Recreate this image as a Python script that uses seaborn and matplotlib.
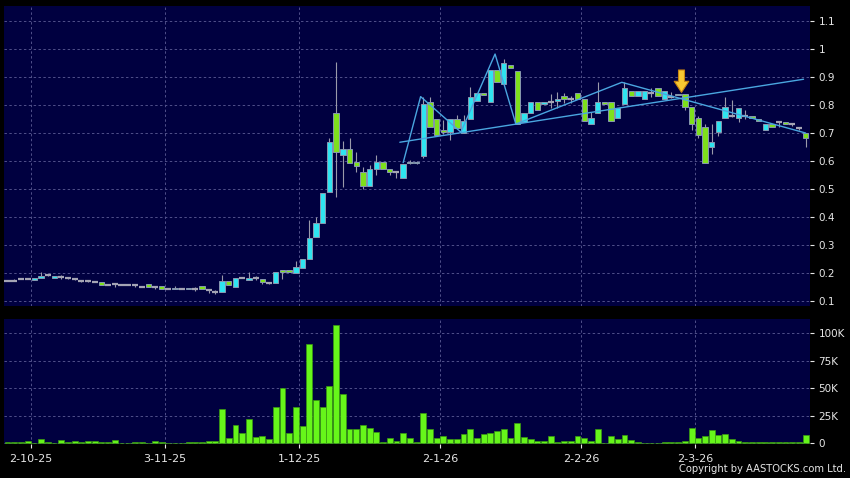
import numpy as np
import pandas as pd
import matplotlib
matplotlib.use('Agg')
import matplotlib.pyplot as plt
import seaborn as sns

# --- Daily candles (one entry per trading day) ---
OPEN = [0.173, 0.173, 0.179, 0.179, 0.175, 0.183, 0.193, 0.183, 0.187, 0.181,
        0.177, 0.173, 0.173, 0.168, 0.167, 0.157, 0.160, 0.157, 0.157, 0.156,
        0.151, 0.160, 0.149, 0.154, 0.144, 0.142, 0.144, 0.142, 0.144, 0.154,
        0.139, 0.132, 0.131, 0.170, 0.149, 0.183, 0.176, 0.183, 0.179, 0.163,
        0.163, 0.208, 0.208, 0.201, 0.217, 0.249, 0.327, 0.377, 0.488, 0.770,
        0.620, 0.643, 0.598, 0.560, 0.510, 0.571, 0.598, 0.570, 0.561, 0.538,
        0.598, 0.592, 0.619, 0.812, 0.750, 0.711, 0.702, 0.750, 0.701, 0.750,
        0.814, 0.842, 0.812, 0.925, 0.874, 0.943, 0.923, 0.741, 0.770, 0.812,
        0.804, 0.812, 0.813, 0.832, 0.820, 0.842, 0.820, 0.732, 0.770, 0.812,
        0.812, 0.752, 0.804, 0.851, 0.832, 0.820, 0.842, 0.862, 0.820, 0.830,
        0.840, 0.840, 0.792, 0.752, 0.720, 0.649, 0.702, 0.755, 0.760, 0.752,
        0.760, 0.760, 0.750, 0.711, 0.731, 0.740, 0.741, 0.731, 0.717, 0.701]
CLOSE = [0.173, 0.173, 0.179, 0.179, 0.182, 0.190, 0.193, 0.189, 0.187, 0.181,
         0.177, 0.173, 0.173, 0.168, 0.157, 0.157, 0.160, 0.157, 0.157, 0.156,
         0.151, 0.149, 0.149, 0.144, 0.144, 0.148, 0.144, 0.148, 0.144, 0.142,
         0.139, 0.132, 0.171, 0.157, 0.183, 0.183, 0.183, 0.183, 0.169, 0.163,
         0.204, 0.204, 0.204, 0.223, 0.250, 0.324, 0.377, 0.485, 0.669, 0.631,
         0.642, 0.592, 0.581, 0.510, 0.570, 0.598, 0.571, 0.561, 0.561, 0.591,
         0.592, 0.598, 0.802, 0.720, 0.693, 0.705, 0.750, 0.719, 0.743, 0.830,
         0.842, 0.835, 0.925, 0.881, 0.951, 0.932, 0.732, 0.770, 0.812, 0.782,
         0.812, 0.812, 0.820, 0.820, 0.820, 0.820, 0.743, 0.752, 0.812, 0.804,
         0.743, 0.790, 0.862, 0.832, 0.851, 0.851, 0.842, 0.832, 0.851, 0.830,
         0.835, 0.792, 0.732, 0.693, 0.592, 0.669, 0.744, 0.792, 0.760, 0.790,
         0.760, 0.752, 0.743, 0.731, 0.720, 0.740, 0.732, 0.731, 0.717, 0.681]
HIGH = [0.175, 0.179, 0.180, 0.180, 0.183, 0.202, 0.194, 0.190, 0.193, 0.182,
        0.178, 0.174, 0.174, 0.169, 0.167, 0.158, 0.165, 0.158, 0.158, 0.157,
        0.152, 0.160, 0.150, 0.154, 0.145, 0.152, 0.145, 0.148, 0.151, 0.154,
        0.140, 0.139, 0.193, 0.170, 0.183, 0.184, 0.202, 0.189, 0.179, 0.164,
        0.204, 0.208, 0.208, 0.244, 0.250, 0.389, 0.399, 0.485, 0.681, 0.952,
        0.673, 0.681, 0.631, 0.580, 0.586, 0.620, 0.598, 0.570, 0.562, 0.591,
        0.602, 0.600, 0.830, 0.830, 0.750, 0.746, 0.750, 0.763, 0.763, 0.866,
        0.842, 0.842, 0.925, 0.925, 0.964, 0.943, 0.923, 0.770, 0.812, 0.812,
        0.812, 0.840, 0.845, 0.843, 0.832, 0.842, 0.820, 0.774, 0.881, 0.812,
        0.812, 0.790, 0.881, 0.851, 0.851, 0.851, 0.860, 0.862, 0.851, 0.845,
        0.840, 0.840, 0.792, 0.760, 0.732, 0.732, 0.744, 0.830, 0.818, 0.790,
        0.783, 0.760, 0.750, 0.731, 0.731, 0.741, 0.741, 0.732, 0.718, 0.701]
LOW = [0.172, 0.172, 0.178, 0.177, 0.174, 0.182, 0.191, 0.182, 0.179, 0.180,
       0.176, 0.167, 0.167, 0.167, 0.157, 0.156, 0.151, 0.156, 0.156, 0.151,
       0.150, 0.149, 0.142, 0.144, 0.143, 0.142, 0.143, 0.142, 0.137, 0.142,
       0.130, 0.124, 0.131, 0.157, 0.149, 0.182, 0.176, 0.175, 0.160, 0.162,
       0.163, 0.177, 0.203, 0.201, 0.217, 0.249, 0.327, 0.377, 0.488, 0.473,
       0.508, 0.592, 0.562, 0.499, 0.510, 0.550, 0.571, 0.550, 0.538, 0.538,
       0.588, 0.590, 0.610, 0.720, 0.693, 0.695, 0.674, 0.719, 0.701, 0.750,
       0.814, 0.835, 0.812, 0.881, 0.874, 0.932, 0.732, 0.741, 0.770, 0.782,
       0.804, 0.790, 0.790, 0.806, 0.806, 0.820, 0.743, 0.732, 0.770, 0.804,
       0.743, 0.752, 0.804, 0.832, 0.832, 0.820, 0.830, 0.832, 0.820, 0.825,
       0.835, 0.782, 0.711, 0.682, 0.592, 0.624, 0.690, 0.755, 0.758, 0.740,
       0.750, 0.752, 0.743, 0.711, 0.720, 0.720, 0.732, 0.725, 0.712, 0.649]
VOLUME_K = [1.3, 1.5, 1.5, 1.8, 0.6, 4.0, 0.9, 0.3, 3.0, 0.9,
            1.8, 1.5, 1.8, 2.4, 1.5, 1.2, 2.7, 0.1, 0.1, 0.9,
            0.9, 0.3, 1.8, 0.9, 0.6, 0.6, 0.6, 1.5, 1.5, 0.9,
            1.8, 2.4, 31.2, 5.2, 16.4, 9.1, 21.8, 5.5, 7.0, 3.6,
            33.0, 50.6, 9.4, 32.7, 16.1, 90.6, 39.7, 33.3, 51.8, 107.6,
            44.8, 13.0, 13.0, 16.4, 13.9, 10.6, 1.5, 4.8, 1.8, 9.7,
            5.2, 1.2, 27.6, 13.3, 5.2, 6.8, 3.7, 4.3, 8.3, 13.3,
            4.9, 8.3, 9.6, 11.7, 13.3, 5.2, 18.5, 6.2, 3.7, 1.9,
            2.2, 6.8, 1.5, 2.2, 2.5, 6.8, 4.9, 2.2, 13.3, 0.6,
            7.1, 4.0, 7.7, 3.1, 0.9, 0.3, 0.3, 0.6, 0.9, 1.2,
            1.2, 1.9, 14.2, 4.6, 6.8, 12.3, 7.4, 8.3, 3.7, 1.9,
            0.9, 0.9, 0.9, 0.9, 1.5, 1.2, 0.9, 0.9, 0.9, 7.7]

# Date axis: trading-day index of each labelled date
TICK_DAY = [3, 23, 43, 64, 85, 102]
TICK_LABELS = ['2-10-25', '3-11-25', '1-12-25', '2-1-26', '2-2-26', '2-3-26']
PRICE_TICKS = [0.1, 0.2, 0.3, 0.4, 0.5, 0.6, 0.7, 0.8, 0.9, 1.0, 1.1]
PRICE_LABELS = ['0.1', '0.2', '0.3', '0.4', '0.5', '0.6', '0.7', '0.8', '0.9', '1', '1.1']
VOL_TICKS = [0, 25000, 50000, 75000, 100000]
VOL_LABELS = ['0', '25K', '50K', '75K', '100K']

# Pattern lines drawn on the chart
ZIGZAG_DAY = [59.0, 61.6, 67.6, 72.7, 75.8, 91.6, 119.0]
ZIGZAG_PRICE = [0.594, 0.830, 0.703, 0.982, 0.732, 0.881, 0.700]
SUPPORT_DAY = [58.5, 118.7]
SUPPORT_PRICE = [0.667, 0.892]
SIGNAL_DAY = 100.5
SIGNAL_TOP = 0.925
SIGNAL_TIP = 0.845

# --- Colours ---
BG = '#000040'
CYAN = '#2fe4f0'
GREEN = '#7ee01c'
DOJI = '#a4a4b4'
WICK = '#9a9aaa'
EDGE = '#8898b0'
VOL_GREEN = '#66f51a'
LINE_BLUE = '#4aa6e0'
GRID = '#50508a'
TEXT = '#e6e6e6'

df = pd.DataFrame({'open': OPEN, 'close': CLOSE, 'high': HIGH, 'low': LOW,
                   'volume': np.array(VOLUME_K) * 1000})
df['day'] = np.arange(len(df))

sns.set_theme(style='dark')
plt.rcParams['font.family'] = ['DejaVu Sans']

fig = plt.figure(figsize=(8.5, 4.78), dpi=100, facecolor='black')
ax = fig.add_axes([4 / 850, 172 / 478, 806 / 850, 300 / 478])
axv = fig.add_axes([4 / 850, 34 / 478, 806 / 850, 125 / 478])

tick_pos = [d + 0.5 for d in TICK_DAY]

for a in (ax, axv):
    a.set_facecolor(BG)
    for s in a.spines.values():
        s.set_visible(False)
    a.grid(True, color=GRID, linestyle=(0, (2.5, 2.5)), linewidth=0.7)
    a.set_axisbelow(True)
    a.yaxis.tick_right()
    a.tick_params(axis='y', colors=TEXT, labelcolor=TEXT, labelsize=7.5,
                  length=3, width=0.8, pad=3, right=True, left=False)
    a.set_xticks(tick_pos)
    a.set_xlim(-0.52, 119.66)

# --- Candles ---
up = df['close'] > df['open']
down = df['close'] < df['open']
flat = df['close'] == df['open']
body = (df['close'] - df['open']).abs().clip(lower=0.006)

ax.vlines(df['day'], df['low'], df['high'], color=WICK, linewidth=0.8, zorder=2)
ax.bar(df.loc[up, 'day'], body[up], bottom=df.loc[up, 'open'], width=0.8,
       color=CYAN, edgecolor=EDGE, linewidth=0.7, zorder=3)
ax.bar(df.loc[down, 'day'], body[down], bottom=df.loc[down, 'close'], width=0.8,
       color=GREEN, edgecolor=EDGE, linewidth=0.7, zorder=3)
ax.hlines(df.loc[flat, 'close'], df.loc[flat, 'day'] - 0.45, df.loc[flat, 'day'] + 0.45,
          color=DOJI, linewidth=1.6, zorder=3)

# pattern lines
sns.lineplot(x=ZIGZAG_DAY, y=ZIGZAG_PRICE, ax=ax, color=LINE_BLUE, linewidth=1.0,
             sort=False, zorder=4)
sns.lineplot(x=SUPPORT_DAY, y=SUPPORT_PRICE, ax=ax, color=LINE_BLUE, linewidth=1.0,
             sort=False, zorder=4)

ax.annotate('', xy=(SIGNAL_DAY, SIGNAL_TIP), xytext=(SIGNAL_DAY, SIGNAL_TOP),
            arrowprops=dict(arrowstyle='simple,head_width=1.05,head_length=0.8,tail_width=0.43',
                            fc='#f8c832', ec='#c88410', lw=0.8, mutation_scale=10,
                            shrinkA=0, shrinkB=0), zorder=6)

ax.set_ylim(0.0821, 1.1536)
ax.set_yticks(PRICE_TICKS)
ax.set_yticklabels(PRICE_LABELS)
ax.tick_params(axis='x', length=0, labelbottom=False)
ax.set_xlabel('')
ax.set_ylabel('')

# --- Volume ---
sns.barplot(data=df, x='day', y='volume', ax=axv, native_scale=True, color=VOL_GREEN,
            saturation=1, errorbar=None, width=0.88, edgecolor='#3a9a10', linewidth=0.5,
            zorder=3)
axv.set_xlim(-0.52, 119.66)
axv.set_xticks(tick_pos)
axv.set_xticklabels(TICK_LABELS)
axv.tick_params(axis='x', colors=TEXT, labelcolor=TEXT, labelsize=8, length=3,
                width=0.8, pad=4, bottom=True)
axv.set_ylim(-500, 113000)
axv.set_yticks(VOL_TICKS)
axv.set_yticklabels(VOL_LABELS)
axv.set_xlabel('')
axv.set_ylabel('')

fig.text(0.995, 0.008, 'Copyright by AASTOCKS.com Ltd.', ha='right', va='bottom',
         color=TEXT, fontsize=7.2)

fig.savefig('out.png', dpi=100, facecolor='black')
